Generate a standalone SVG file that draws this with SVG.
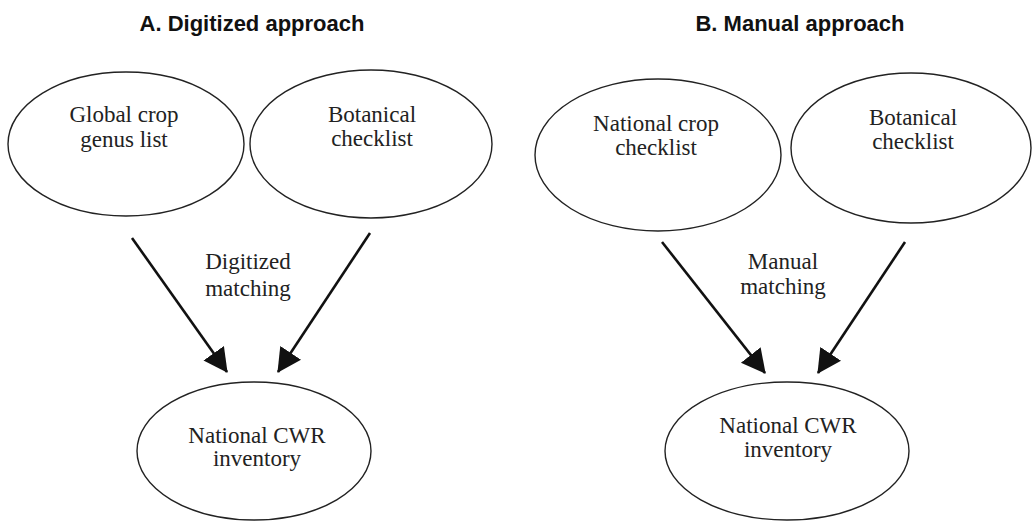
<svg xmlns="http://www.w3.org/2000/svg" width="1033" height="522" viewBox="0 0 1033 522">
<style>
.title{font-family:"Liberation Sans",Arial,sans-serif;font-weight:bold;font-size:22px;fill:#111;text-anchor:middle}
.lbl{font-family:"Liberation Serif","Times New Roman",serif;font-size:23px;fill:#222;text-anchor:middle}
.node ellipse{fill:#fff;stroke:#222;stroke-width:1.4}
.conn line{stroke:#111;stroke-width:2.6;marker-end:url(#ah)}
</style>
<defs>
<marker id="ah" markerUnits="userSpaceOnUse" markerWidth="24" markerHeight="26" refX="23" refY="12.5" orient="auto">
<path d="M0,0 L24,12.5 L0,25 z" fill="#111"/>
</marker>
</defs>
<rect width="1033" height="522" fill="#fff"/>
<text class="title" x="252" y="31">A. Digitized approach</text>
<text class="title" x="800" y="31">B. Manual approach</text>
<g id="a-global" class="node">
<ellipse cx="126" cy="144" rx="118" ry="72"/>
<text class="lbl" x="124" y="122">Global crop</text>
<text class="lbl" x="124" y="147">genus list</text>
</g>
<g id="a-botanical" class="node">
<ellipse cx="371" cy="144" rx="121" ry="74"/>
<text class="lbl" x="372" y="122">Botanical</text>
<text class="lbl" x="372" y="146">checklist</text>
</g>
<g id="a-inventory" class="node">
<ellipse cx="254" cy="451" rx="117" ry="69"/>
<text class="lbl" x="257" y="443">National CWR</text>
<text class="lbl" x="257" y="466">inventory</text>
</g>
<g id="b-national" class="node">
<ellipse cx="658" cy="155" rx="123" ry="76"/>
<text class="lbl" x="656" y="131">National crop</text>
<text class="lbl" x="656" y="155">checklist</text>
</g>
<g id="b-botanical" class="node">
<ellipse cx="911" cy="148" rx="120" ry="75"/>
<text class="lbl" x="913" y="125">Botanical</text>
<text class="lbl" x="913" y="149">checklist</text>
</g>
<g id="b-inventory" class="node">
<ellipse cx="787" cy="451" rx="122" ry="69"/>
<text class="lbl" x="788" y="433">National CWR</text>
<text class="lbl" x="788" y="457">inventory</text>
</g>
<g id="connectors" class="conn">
<line x1="132" y1="238" x2="227" y2="372"/>
<line x1="370" y1="233" x2="278" y2="372"/>
<line x1="662" y1="242" x2="765" y2="373"/>
<line x1="905" y1="242" x2="818" y2="373"/>
</g>
<g id="edge-labels">
<text class="lbl" x="248" y="269">Digitized</text>
<text class="lbl" x="248" y="296">matching</text>
<text class="lbl" x="783" y="269">Manual</text>
<text class="lbl" x="783" y="294">matching</text>
</g>
</svg>
